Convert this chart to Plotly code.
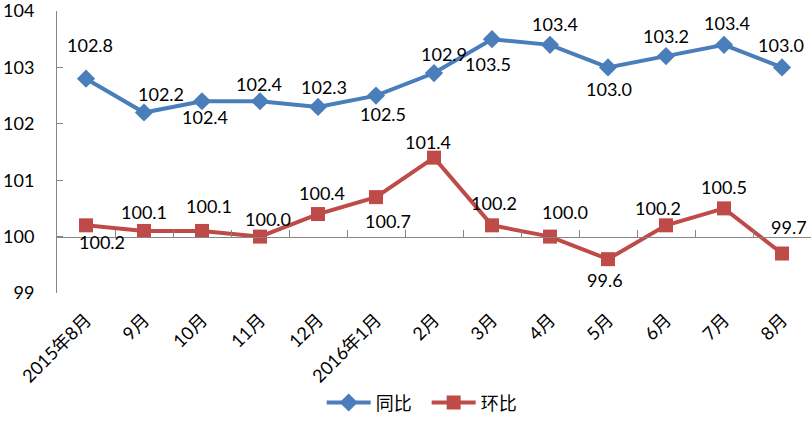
import plotly.graph_objects as go

categories = ["2015年8月", "9月", "10月", "11月", "12月", "2016年1月", "2月", "3月", "4月", "5月", "6月", "7月", "8月"]
yoy = [102.8, 102.2, 102.4, 102.4, 102.3, 102.5, 102.9, 103.5, 103.4, 103.0, 103.2, 103.4, 103.0]
mom = [100.2, 100.1, 100.1, 100.0, 100.4, 100.7, 101.4, 100.2, 100.0, 99.6, 100.2, 100.5, 99.7]
series_names = ["同比", "环比"]
y_ticks = [99, 100, 101, 102, 103, 104]

# label placement offsets (pixels): dx right, dy down
yoy_dx = [4, 17, 3, -1, 6, 7, 10, -4, 5, 1, 0, 3, -1]
yoy_dy = [-34, -19, 16, -17, -20, 18, -19, 25, -21, 22, -20, -22, -22]
mom_dx = [16, 0, 7, 8, 4, 12, -6, 2, 15, -3, -8, 0, 7]
mom_dy = [17, -19, -25, -18, -21, 24, -16, -22, -25, 21, -17, -21, -27]

BLUE = "#4A7EBB"
RED = "#BE4B48"
AXIS = "#868686"
FONT = "Lato, 'Noto Sans CJK SC', sans-serif"

fig = go.Figure()
fig.add_trace(go.Scatter(
    x=categories, y=yoy, name=series_names[0], mode="lines+markers",
    line=dict(color=BLUE, width=4),
    marker=dict(symbol="diamond", size=14, color=BLUE),
))
fig.add_trace(go.Scatter(
    x=categories, y=mom, name=series_names[1], mode="lines+markers",
    line=dict(color=RED, width=4),
    marker=dict(symbol="square", size=14, color=RED),
))
# helper trace for the category axis line drawn at y=100
fig.add_trace(go.Scatter(
    x=categories, y=[None] * len(categories), xaxis="x2", showlegend=False,
    hoverinfo="skip", mode="lines",
))

annotations = []
for vals, dxs, dys in ((yoy, yoy_dx, yoy_dy), (mom, mom_dx, mom_dy)):
    for c, v, dx, dy in zip(categories, vals, dxs, dys):
        annotations.append(dict(
            x=c, y=v, text=f"{v:.1f}", showarrow=False,
            xanchor="center", yanchor="middle",
            xshift=dx, yshift=-dy,
            font=dict(family=FONT, size=18, color="#000000"),
        ))

ymin, ymax, ycross = y_ticks[0], y_ticks[-1], 100

fig.update_layout(
    width=811, height=424,
    margin=dict(l=57, r=0, t=11, b=131, autoexpand=False),
    paper_bgcolor="white", plot_bgcolor="white",
    font=dict(family=FONT, size=18, color="#000000"),
    showlegend=True,
    legend=dict(
        orientation="h", x=0.351, xanchor="left", y=-0.455, yanchor="bottom",
        font=dict(family=FONT, size=18), itemwidth=44,
        entrywidth=46, entrywidthmode="pixels", traceorder="normal",
    ),
    annotations=annotations,
    xaxis=dict(
        type="category", categoryorder="array", categoryarray=categories,
        range=[-0.5, len(categories) - 0.5], automargin=False,
        showline=False, showgrid=False, zeroline=False, ticks="",
        tickangle=-45, ticklabelstandoff=12, ticklabeloverflow="allow",
        tickfont=dict(family=FONT, size=18),
    ),
    xaxis2=dict(
        type="category", categoryorder="array", categoryarray=categories,
        range=[-0.5, len(categories) - 0.5], automargin=False,
        overlaying="x", anchor="free",
        position=(ycross - ymin) / (ymax - ymin),
        showline=True, linecolor=AXIS, linewidth=1,
        ticks="inside", tickson="boundaries", ticklen=7, tickcolor=AXIS,
        showticklabels=False, showgrid=False, zeroline=False,
    ),
    yaxis=dict(
        range=[ymin, ymax], tickmode="array", tickvals=y_ticks,
        ticktext=[str(t) for t in y_ticks], automargin=False,
        showline=True, linecolor=AXIS, linewidth=1,
        ticks="inside", ticklen=6, tickcolor=AXIS,
        showgrid=False, zeroline=False,
        ticklabelstandoff=18, ticklabeloverflow="allow",
        tickfont=dict(family=FONT, size=18),
    ),
)

fig.write_html("out.html", config={"displayModeBar": False},
               post_script="document.body.style.margin='0';")
